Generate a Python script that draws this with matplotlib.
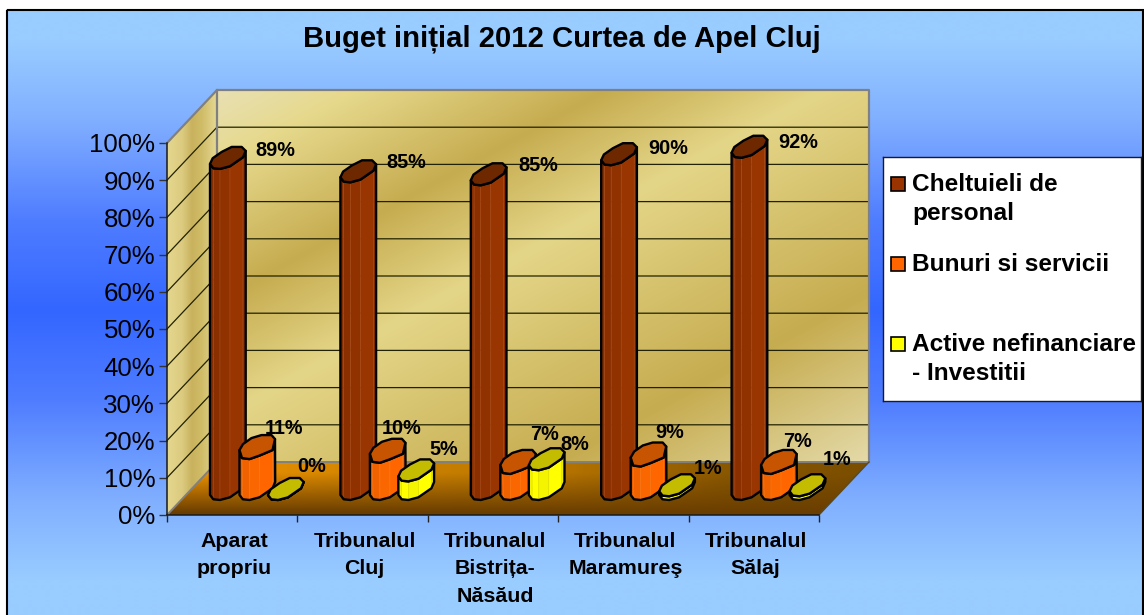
import numpy as np
import matplotlib
matplotlib.use("Agg")
import matplotlib.pyplot as plt
from matplotlib.colors import to_rgb
from matplotlib.patches import Polygon, Rectangle

# ---------- data ----------
categories = ["Aparat\npropriu", "Tribunalul\nCluj", "Tribunalul\nBistrița-\nNăsăud",
              "Tribunalul\nMaramureş", "Tribunalul\nSălaj"]
cheltuieli = [89, 85.4, 84.6, 90, 92]
bunuri = [11, 10, 7, 9, 7]
active = [0, 5, 8, 1, 1]
series_names = ["Cheltuieli de\npersonal", "Bunuri si servicii", "Active nefinanciare\n- Investitii"]
ytick_values = list(range(0, 101, 10))
title = "Buget inițial 2012 Curtea de Apel Cluj"

# ---------- layout (pixels of the 1144x615 canvas) ----------
W, H = 1144, 615
PLOT_L, PLOT_R, PLOT_B, PLOT_T = 167, 819, 515, 143
DX, DY = 50, 53
SX = (PLOT_R - PLOT_L) / 5
SY = (PLOT_B - PLOT_T) / 100
BASE_UP = 20
SERIES_OFF = [43, 72.5, 101]
OCT = [(0, 0), (2.7, -5.7), (11.7, -12), (21.7, -17), (31.7, -17), (35.7, -13),
       (33, -6.7), (20, 2.3), (10, 5), (3.3, 4.3)]
OCT_FAT = [(0, -4), (3.5, -10), (12, -16), (22, -19), (32, -19), (35.5, -15),
           (33, -4), (20, 1.5), (10, 5), (2.5, 4)]
TOP_SHAPE = [OCT, OCT_FAT, OCT]
LOWER = [0, 9, 8, 7, 6, 5]
FONT = "Liberation Sans"
plt.rcParams["font.family"] = [FONT, "DejaVu Sans"]

BODY = [["#852c00", "#8a2f00", "#8f3200", "#993500", "#8a2f00"],
        ["#e85e00", "#f06200", "#fa6600", "#ff6600", "#e85e00"],
        ["#f2f200", "#ffff00", "#f4f400", "#ffff00", "#eeee00"]]
STRIPE = ["#a8481a", "#ff7a18", "#e4e400"]
CAP = ["#6e2800", "#c75400", "#c4bc00"]
SWATCH = ["#993300", "#ff6600", "#ffff00"]

# label offsets from the left vertex of each bar top, in pixels (right, up)
LABEL_OFF = [
    [(65, 13), (65.6, 15), (67, 15), (67, 12), (67, 10)],
    [(45, 26), (32, 29), (44.5, 34), (39, 29.5), (36, 27)],
    [(44, 29), (45.6, 27), (46, 21), (49, 23), (47, 32)],
]


def ramp(stops, t):
    pos = [s[0] for s in stops]
    cols = np.array([to_rgb(s[1]) for s in stops])
    return np.stack([np.interp(t, pos, cols[:, k]) for k in range(3)], axis=-1)


fig = plt.figure(figsize=(W / 100, H / 100), dpi=100, facecolor="white")

# ---------- background ----------
bg = fig.add_axes([0, 0, 1, 1], zorder=0)
bg.set_axis_off()
rows = np.arange(9, 616)[:, None]
bg_img = ramp([(0, "#3366ff"), (90, "#4f7dff"), (190, "#80afff"), (270, "#99ccff"), (400, "#99ccff")],
              np.abs(rows - 310.0))
bg.imshow(bg_img, extent=(6, 1143, 615, 9), aspect="auto", interpolation="bilinear")
bg.add_patch(Rectangle((6.5, 9.5), 1136, 640, fill=False, ec="black", lw=1.5))
bg.set_xlim(0, W)
bg.set_ylim(H, 0)

# ---------- main axes = front plane of the 3-D box ----------
ax = fig.add_axes([PLOT_L / W, 1 - PLOT_B / H, (PLOT_R - PLOT_L) / W, (PLOT_B - PLOT_T) / H], zorder=1)
ax.patch.set_visible(False)
ox, oy = DX / SX, DY / SY


def wall_image(img, extent, poly, z):
    im = ax.imshow(img, extent=extent, aspect="auto", interpolation="bilinear", zorder=z, origin="upper")
    patch = Polygon(poly, transform=ax.transData, closed=True, fc="none", ec="none")
    im.set_clip_box(fig.bbox)
    im.set_clip_path(patch)
    return im


# back wall: two diagonal gold bands
v, u = np.mgrid[0:1:200j, 0:1:300j]
t = v + 0.953 * u
gold = ramp([(0, "#e8e0b4"), (0.2, "#e6d98c"), (0.567, "#c6ac50"), (0.885, "#e4d688"),
             (1.5, "#c6ac50"), (1.953, "#e4daa8")], t)
back = [(ox, oy), (5 + ox, oy), (5 + ox, 100 + oy), (ox, 100 + oy)]
wall_image(gold, (ox, 5 + ox, oy, 100 + oy), back, 1)

# side wall
u2 = np.linspace(0, 1, 60)[None, :].repeat(4, axis=0)
side_img = ramp([(0, "#e4d78f"), (0.3, "#dccb80"), (0.5, "#c9b25e"), (0.7, "#d0bc68"), (1, "#e4d892")], u2)
side = [(0, 0), (ox, oy), (ox, 100 + oy), (0, 100)]
wall_image(side_img, (0, ox, 0, 100 + oy), side, 1)

# floor: row 0 is the back edge
v3, u3 = np.mgrid[0:1:60j, 0:1:200j]
back_col = ramp([(0, "#f29400"), (0.3, "#d08400"), (0.55, "#b87500"), (0.8, "#8a5800"), (1, "#7a4e00")], u3)
front_col = np.array(to_rgb("#6a3e00"))
mix = np.clip(v3 * 1.3 - 0.25, 0, 1)[..., None]
floor_img = back_col * (1 - mix) + front_col * mix
floor = [(0, 0), (5, 0), (5 + ox, oy), (ox, oy)]
wall_image(floor_img, (0, 5 + ox, 0, oy), floor, 1)

# grid lines on walls
for yv in ytick_values[1:-1]:
    ax.plot([0, ox, 5 + ox], [yv, yv + oy, yv + oy], color="#222200", lw=0.9, zorder=2, clip_on=False)

# box edges
EDGE = "#808080"
ax.plot([0, ox, 5 + ox, 5 + ox], [100, 100 + oy, 100 + oy, oy], color=EDGE, lw=1.6, zorder=2, clip_on=False)
ax.plot([ox, ox], [oy, 100 + oy], color=EDGE, lw=1.6, zorder=2, clip_on=False)
ax.plot([0, ox, 5 + ox], [0, oy, oy], color=EDGE, lw=1.4, zorder=2, clip_on=False)
ax.plot([5, 5 + ox], [0, oy], color="#5a4a20", lw=1.0, zorder=2, clip_on=False)


# ---------- bars ----------
def px(x_data, y_data, dx, dy):
    """Data point shifted by a pixel offset (dy positive = down on screen)."""
    return (x_data + dx / SX, y_data - dy / SY)


def draw_bar(i, s, value, z):
    x0 = i + SERIES_OFF[s] / SX
    base = BASE_UP / SY
    top = base + value
    shape = TOP_SHAPE[s]
    low_b = [OCT[k] for k in LOWER]
    low_t = [shape[k] for k in LOWER]
    for n in range(len(low_b) - 1):
        quad = [px(x0, base, *low_b[n]), px(x0, base, *low_b[n + 1]),
                px(x0, top, *low_t[n + 1]), px(x0, top, *low_t[n])]
        ax.add_patch(Polygon(quad, fc=BODY[s][n], ec=STRIPE[s], lw=0.4, zorder=z, clip_on=False))
    outline = [px(x0, base, *p) for p in low_b] + [px(x0, top, *p) for p in reversed(low_t)]
    ax.add_patch(Polygon(outline, fc="none", ec="black", lw=1.7, zorder=z + 0.1, clip_on=False, joinstyle="round"))
    ax.add_patch(Polygon([px(x0, top, *p) for p in shape], fc=CAP[s], ec="black", lw=1.7,
                         zorder=z + 0.2, clip_on=False, joinstyle="round"))
    ldx, lup = LABEL_OFF[s][i]
    ax.annotate(f"{round(value)}%", xy=(x0, top), xytext=(ldx, lup), textcoords="offset pixels",
                ha="center", va="center", fontsize=14.3, fontweight="bold", color="black",
                zorder=30, annotation_clip=False)


for i in range(len(categories)):
    for s, vals in enumerate([cheltuieli, bunuri, active]):
        draw_bar(i, s, vals[i], 5 + i * 2 + s * 0.5)

# ---------- axes ----------
ax.set_xlim(0, 5)
ax.set_ylim(0, 100)
for sp in ["top", "right"]:
    ax.spines[sp].set_visible(False)
for sp in ["left", "bottom"]:
    ax.spines[sp].set_color("#1a1a1a")
    ax.spines[sp].set_linewidth(1.1)
    ax.spines[sp].set_zorder(4)
ax.set_yticks(ytick_values)
ax.set_yticklabels([f"{v}%" for v in ytick_values], fontsize=18.6, color="black")
ax.tick_params(axis="y", length=6, width=1, color="#333333", pad=2.5)
ax.set_xticks(range(6))
ax.set_xticklabels([])
ax.tick_params(axis="x", which="major", length=5.2, width=1, color="#222222")
ax.set_xticks([i + 0.515 for i in range(5)], minor=True)
ax.set_xticklabels(categories, minor=True, fontsize=15.4, fontweight="bold", linespacing=1.54)
ax.tick_params(axis="x", which="minor", length=0, pad=12.5)

# ---------- title ----------
fig.text(562 / W, 1 - 38.5 / H, title, ha="center", va="center", fontsize=21.1, fontweight="bold", color="black")

# ---------- legend ----------
lax = fig.add_axes([883 / W, 1 - 401 / H, 258 / W, 244 / H], zorder=2)
lax.set_xlim(883, 1141)
lax.set_ylim(401, 157)
lax.set_xticks([])
lax.set_yticks([])
for sp in lax.spines.values():
    sp.set_color("#1a1a2a")
    sp.set_linewidth(1)
for name, col, y in zip(series_names, SWATCH, [177, 257, 337]):
    lax.add_patch(Rectangle((890.5, y), 14, 14, fc=col, ec="black", lw=1.2))
    lax.text(912, y - 4, name, ha="left", va="top", fontsize=17.6, fontweight="bold",
             linespacing=1.36, color="black", clip_on=False)

fig.savefig("out.png", dpi=100, facecolor="white")
